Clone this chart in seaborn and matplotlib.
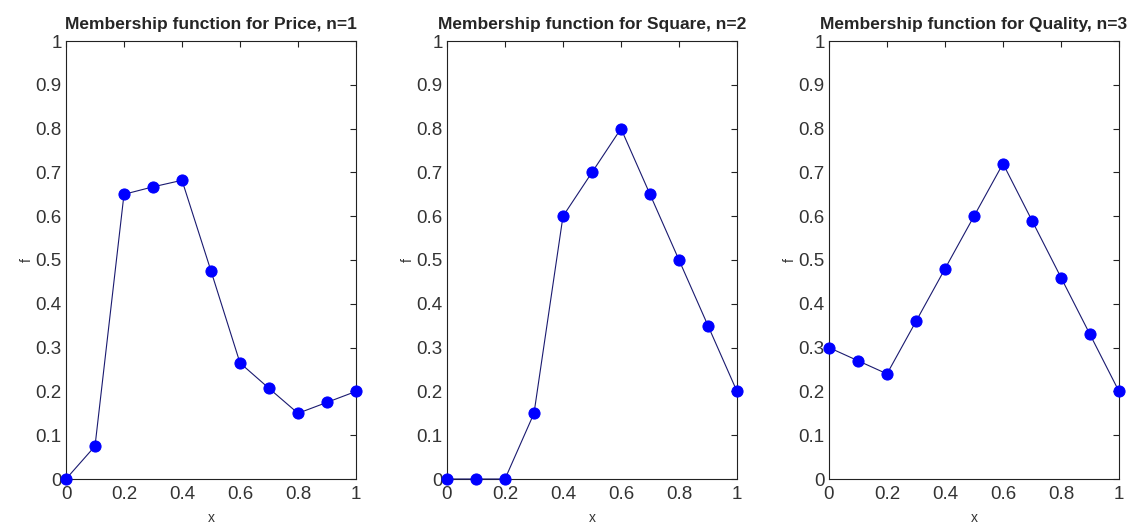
import matplotlib
matplotlib.use("Agg")
import matplotlib.pyplot as plt
import seaborn as sns
import pandas as pd

x_vals = [0, 0.1, 0.2, 0.3, 0.4, 0.5, 0.6, 0.7, 0.8, 0.9, 1.0]
price = [0, 0.075, 0.65, 0.667, 0.682, 0.475, 0.265, 0.207, 0.15, 0.175, 0.2]
square = [0, 0, 0, 0.15, 0.6, 0.7, 0.8, 0.65, 0.5, 0.35, 0.2]
quality = [0.3, 0.27, 0.24, 0.36, 0.48, 0.6, 0.72, 0.59, 0.46, 0.33, 0.2]
titles = ["Membership function for Price, n=1",
          "Membership function for Square, n=2",
          "Membership function for Quality, n=3"]
xticks = [0, 0.2, 0.4, 0.6, 0.8, 1]
xticklabels = ["0", "0.2", "0.4", "0.6", "0.8", "1"]
yticks = [0, 0.1, 0.2, 0.3, 0.4, 0.5, 0.6, 0.7, 0.8, 0.9, 1]
yticklabels = ["0", "0.1", "0.2", "0.3", "0.4", "0.5", "0.6", "0.7", "0.8", "0.9", "1"]

sns.set_style("white")
plt.rcParams['font.family'] = ['Liberation Sans', 'DejaVu Sans']

fig = plt.figure(figsize=(11.33, 5.28), dpi=100)
W, H = 1133, 528
lefts = [66, 447, 829]
width = 290
top, bottom = 41, 479

for i, (series, title) in enumerate(zip([price, square, quality], titles)):
    ax = fig.add_axes([lefts[i] / W, 1 - bottom / H, width / W, (bottom - top) / H])
    df = pd.DataFrame({"x": x_vals, "f": series})
    sns.lineplot(data=df, x="x", y="f", ax=ax, color="#1a1a70", linewidth=0.8,
                 marker="o", markersize=8, markerfacecolor="#0000ff",
                 markeredgecolor="#0000ff", clip_on=False, zorder=3)
    ax.set_xlim(0, 1)
    ax.set_ylim(0, 1)
    ax.set_xticks(xticks)
    ax.set_xticklabels(xticklabels)
    ax.set_yticks(yticks)
    ax.set_yticklabels(yticklabels)
    ax.tick_params(direction="in", length=4, width=0.8, top=True, right=True,
                   labelsize=13.5, colors="#222222", labelcolor="#333333")
    ax.tick_params(axis="x", pad=5)
    ax.tick_params(axis="y", pad=3)
    for s in ax.spines.values():
        s.set_color("#222222")
        s.set_linewidth(0.8)
    ax.set_title(title, fontsize=12.5, fontweight="bold", pad=9)
    ax.set_xlabel("x", fontsize=10, labelpad=6, color="#333333")
    ax.set_ylabel("f", fontsize=10, labelpad=1, color="#333333")

fig.savefig("out.png", dpi=100)
